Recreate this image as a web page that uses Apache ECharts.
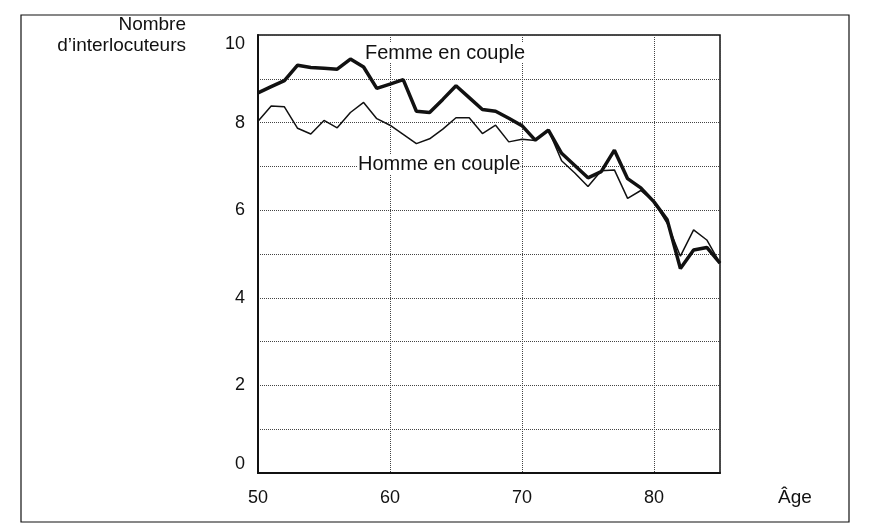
<!DOCTYPE html>
<html>
<head>
<meta charset="utf-8">
<script src="https://cdn.jsdelivr.net/npm/echarts@6/dist/echarts.min.js"></script>
<style>
html,body{margin:0;padding:0;background:#fff;}
#chart{width:879px;height:531px;}
</style>
</head>
<body>
<div id="chart"></div>
<script>
// Âge (années)
const ages = [50,51,52,53,54,55,56,57,58,59,60,61,62,63,64,65,66,67,68,69,70,71,72,73,74,75,76,77,78,79,80,81,82,83,84,85];
// Femme en couple (trait épais)
const femme = [8.68,8.82,8.96,9.31,9.26,9.24,9.22,9.45,9.27,8.78,8.88,8.98,8.26,8.23,8.53,8.84,8.57,8.30,8.26,8.10,7.93,7.60,7.83,7.30,7.02,6.74,6.88,7.37,6.72,6.51,6.19,5.78,4.67,5.09,5.15,4.79];
// Homme en couple (trait fin)
const homme = [8.03,8.38,8.36,7.87,7.74,8.05,7.88,8.23,8.46,8.09,7.94,7.73,7.52,7.63,7.85,8.11,8.11,7.75,7.94,7.56,7.62,7.59,7.84,7.13,6.85,6.54,6.90,6.92,6.27,6.45,6.19,5.70,4.95,5.55,5.32,4.79];
const xTicks = [50,60,70,80];
const yTicks = [0,2,4,6,8,10];

const chart = echarts.init(document.getElementById('chart'));
const font = 'Liberation Sans, Arial, sans-serif';
chart.setOption({
  animation:false,
  backgroundColor:'#fff',
  grid:{left:258,right:159,top:35,bottom:58,show:true,borderColor:'#111',borderWidth:1.5,backgroundColor:'transparent'},
  xAxis:{type:'value',min:50,max:85,interval:10,
    axisLine:{show:true,lineStyle:{color:'#111',width:2}},
    axisTick:{show:false},
    axisLabel:{color:'#111',fontSize:18,fontFamily:font,margin:16,showMaxLabel:false,
      formatter:v=>xTicks.includes(v)?String(v):''},
    splitLine:{show:true,lineStyle:{type:'dotted',color:'#444',width:1}}},
  yAxis:{type:'value',min:0,max:10,interval:1,
    axisLine:{show:true,lineStyle:{color:'#111',width:2}},
    axisTick:{show:false},
    axisLabel:{color:'#111',fontSize:18,fontFamily:font,margin:13,
      verticalAlignMinLabel:'bottom',verticalAlignMaxLabel:'top',
      formatter:v=>yTicks.includes(v)?String(v):''},
    splitLine:{show:true,lineStyle:{type:'dotted',color:'#444',width:1}}},
  series:[
    {name:'Femme en couple',type:'line',data:ages.map((a,i)=>[a,femme[i]]),symbol:'none',
      lineStyle:{color:'#111',width:3.5},z:3},
    {name:'Homme en couple',type:'line',data:ages.map((a,i)=>[a,homme[i]]),symbol:'none',
      lineStyle:{color:'#111',width:1.5},z:2}
  ],
  graphic:[
    {type:'rect',shape:{x:21,y:15,width:828,height:507},style:{fill:'none',stroke:'#111',lineWidth:1.2},silent:true},
    {type:'text',style:{text:'Nombre',x:186,y:25,align:'right',verticalAlign:'middle',font:'19px '+font,fill:'#111'}},
    {type:'text',style:{text:'d\u2019interlocuteurs',x:186,y:46,align:'right',verticalAlign:'middle',font:'19px '+font,fill:'#111'}},
    {type:'text',style:{text:'Âge',x:795,y:498,align:'center',verticalAlign:'middle',font:'19px '+font,fill:'#111'}},
    {type:'text',z:10,style:{text:'Femme en couple',x:365,y:53,align:'left',verticalAlign:'middle',font:'20px '+font,fill:'#111',backgroundColor:'#fff'}},
    {type:'text',z:10,style:{text:'Homme en couple',x:358,y:164,align:'left',verticalAlign:'middle',font:'20px '+font,fill:'#111',backgroundColor:'#fff'}}
  ]
});
</script>
</body>
</html>
